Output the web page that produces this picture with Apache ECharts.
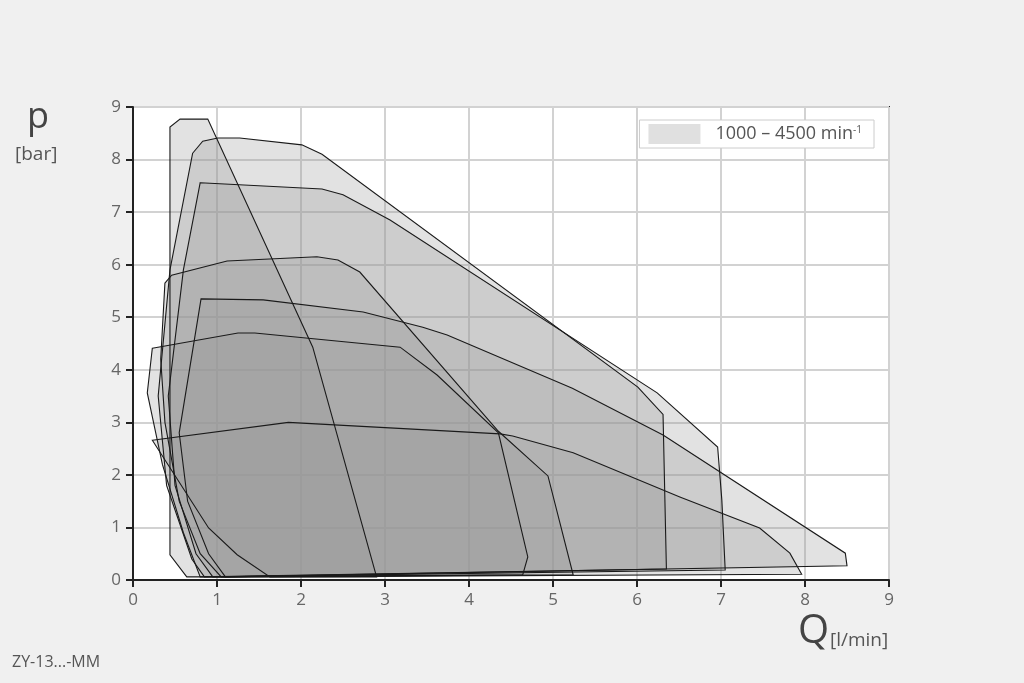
<!DOCTYPE html>
<html>
<head>
<meta charset="utf-8">
<script src="https://cdn.jsdelivr.net/npm/echarts@6/dist/echarts.min.js"></script>
<style>
  html, body { margin: 0; padding: 0; background: #f0f0f0; }
  #chart { width: 1024px; height: 683px; }
</style>
</head>
<body>
<div id="chart"></div>
<script>
// operating envelopes, [Q l/min, p bar], one closed outline per speed
var polyA = [[0.44, 0.48], [0.44, 8.62], [0.56, 8.77], [0.89, 8.77], [2.14, 4.43], [2.90, 0.06], [0.64, 0.06]]
var polyB = [[0.71, 8.12], [0.83, 8.35], [1.01, 8.41], [1.27, 8.41], [2.01, 8.28], [2.25, 8.10], [6.01, 3.67], [6.31, 3.15], [6.35, 0.21], [0.85, 0.06], [0.70, 0.40], [0.40, 1.80], [0.30, 3.50], [0.44, 5.90]]
var polyF = [[0.80, 7.56], [2.25, 7.44], [2.50, 7.33], [3.06, 6.85], [6.24, 3.56], [6.96, 2.53], [7.01, 1.52], [7.05, 0.19], [0.95, 0.06], [0.75, 0.50], [0.50, 1.80], [0.42, 3.50], [0.60, 5.90]]
var polyD = [[0.38, 5.65], [0.46, 5.80], [1.12, 6.07], [2.19, 6.15], [2.44, 6.09], [2.70, 5.86], [4.35, 2.83], [4.94, 1.98], [5.24, 0.10], [1.05, 0.06], [0.80, 0.50], [0.55, 1.50], [0.38, 3.00], [0.33, 4.20]]
var polyE = [[0.81, 5.35], [1.55, 5.33], [2.74, 5.10], [3.45, 4.81], [3.74, 4.66], [5.23, 3.65], [6.31, 2.76], [8.48, 0.51], [8.50, 0.27], [1.10, 0.06], [0.90, 0.50], [0.65, 1.50], [0.55, 2.80]]
var polyH = [[0.23, 4.41], [1.25, 4.70], [1.45, 4.70], [3.18, 4.43], [3.62, 3.90], [4.35, 2.80], [4.70, 0.44], [4.64, 0.10], [0.80, 0.06], [0.60, 0.90], [0.35, 2.20], [0.17, 3.56]]
var polyG = [[0.23, 2.66], [1.85, 3.00], [4.37, 2.78], [4.52, 2.74], [5.24, 2.42], [6.51, 1.58], [7.46, 0.99], [7.82, 0.51], [7.96, 0.11], [1.63, 0.06], [1.24, 0.48], [0.90, 0.99]]
var polygons = [polyA, polyB, polyF, polyD, polyE, polyH, polyG]

var xTicks = [0, 1, 2, 3, 4, 5, 6, 7, 8, 9]
var yTicks = [0, 1, 2, 3, 4, 5, 6, 7, 8, 9]
var legendName = '1000 – 4500 min-1'

var font = 'Open Sans'
var chart = echarts.init(document.getElementById('chart'))

var axisCommon = {
  type: 'value',
  min: 0,
  max: 9,
  interval: 1,
  axisLine: { show: true, onZero: false, lineStyle: { color: '#222', width: 2 } },
  axisTick: { show: true, length: 7, lineStyle: { color: '#222', width: 2 } },
  splitLine: { show: true, lineStyle: { color: '#d2d2d2', width: 2 } }
}

// fills first, outlines in a second pass so every edge stays crisp
function polySeries(withFill) {
  return {
    name: legendName,
    type: 'custom',
    itemStyle: { color: '#e0e0e0' },
    z: withFill ? 2 : 3,
    data: polygons.map(function(p, i) { return [p[0][0], p[0][1], i] }),
    renderItem: function(params, api) {
      var pts = polygons[params.dataIndex].map(function(p) { return api.coord(p) })
      return {
        type: 'polygon',
        shape: { points: pts },
        style: withFill
          ? { fill: 'rgba(150,150,150,0.28)', stroke: null }
          : { fill: null, stroke: '#1a1a1a', lineWidth: 1.1 }
      }
    }
  }
}

var option = {
  backgroundColor: '#f0f0f0',
  animation: false,
  grid: {
    left: 133,
    right: 135,
    top: 107,
    bottom: 103,
    show: true,
    backgroundColor: '#fff',
    borderColor: '#222',
    borderWidth: 2
  },
  legend: {
    right: 150,
    top: 120,
    padding: [4, 12, 4, 9],
    backgroundColor: '#fff',
    borderColor: '#ccc',
    borderWidth: 1,
    borderRadius: 0,
    itemWidth: 52,
    itemHeight: 20,
    data: [{ name: legendName, icon: 'rect', itemStyle: { color: '#e0e0e0', borderWidth: 0 } }],
    formatter: function() {
      return '{n|1000 – 4500 min}{s|-1}'
    },
    textStyle: {
      rich: {
        n: { fontSize: 18, color: '#555', fontFamily: font, padding: [0, 0, 0, 10] },
        s: { fontSize: 10, color: '#555', fontFamily: font, verticalAlign: 'top', padding: [0, 0, 8, 0] }
      }
    }
  },
  xAxis: Object.assign({}, axisCommon, {
    axisLabel: { color: '#666', fontSize: 17, fontFamily: font, margin: 12,
      formatter: function(v) { return xTicks.indexOf(v) >= 0 ? String(v) : '' } }
  }),
  yAxis: Object.assign({}, axisCommon, {
    axisLabel: { color: '#666', fontSize: 17, fontFamily: font, margin: 12,
      formatter: function(v) { return yTicks.indexOf(v) >= 0 ? String(v) : '' } }
  }),
  series: [polySeries(true), polySeries(false)],
  graphic: [
    { type: 'text', left: 27, top: 100, style: { text: 'p', fontSize: 36, fill: '#444', fontFamily: font } },
    { type: 'text', left: 15, top: 145, style: { text: '[bar]', fontSize: 19, fill: '#555', fontFamily: font } },
    { type: 'text', left: 798, top: 612, style: { text: 'Q', fontSize: 40, fill: '#444', fontFamily: font } },
    { type: 'text', left: 830, top: 631, style: { text: '[l/min]', fontSize: 19, fill: '#555', fontFamily: font } },
    { type: 'text', left: 12, top: 654, style: { text: 'ZY-13...-MM', fontSize: 16, fill: '#555', fontFamily: font } }
  ]
}

chart.setOption(option)
window.addEventListener('resize', () => {
  chart.resize()
})
</script>
</body>
</html>
